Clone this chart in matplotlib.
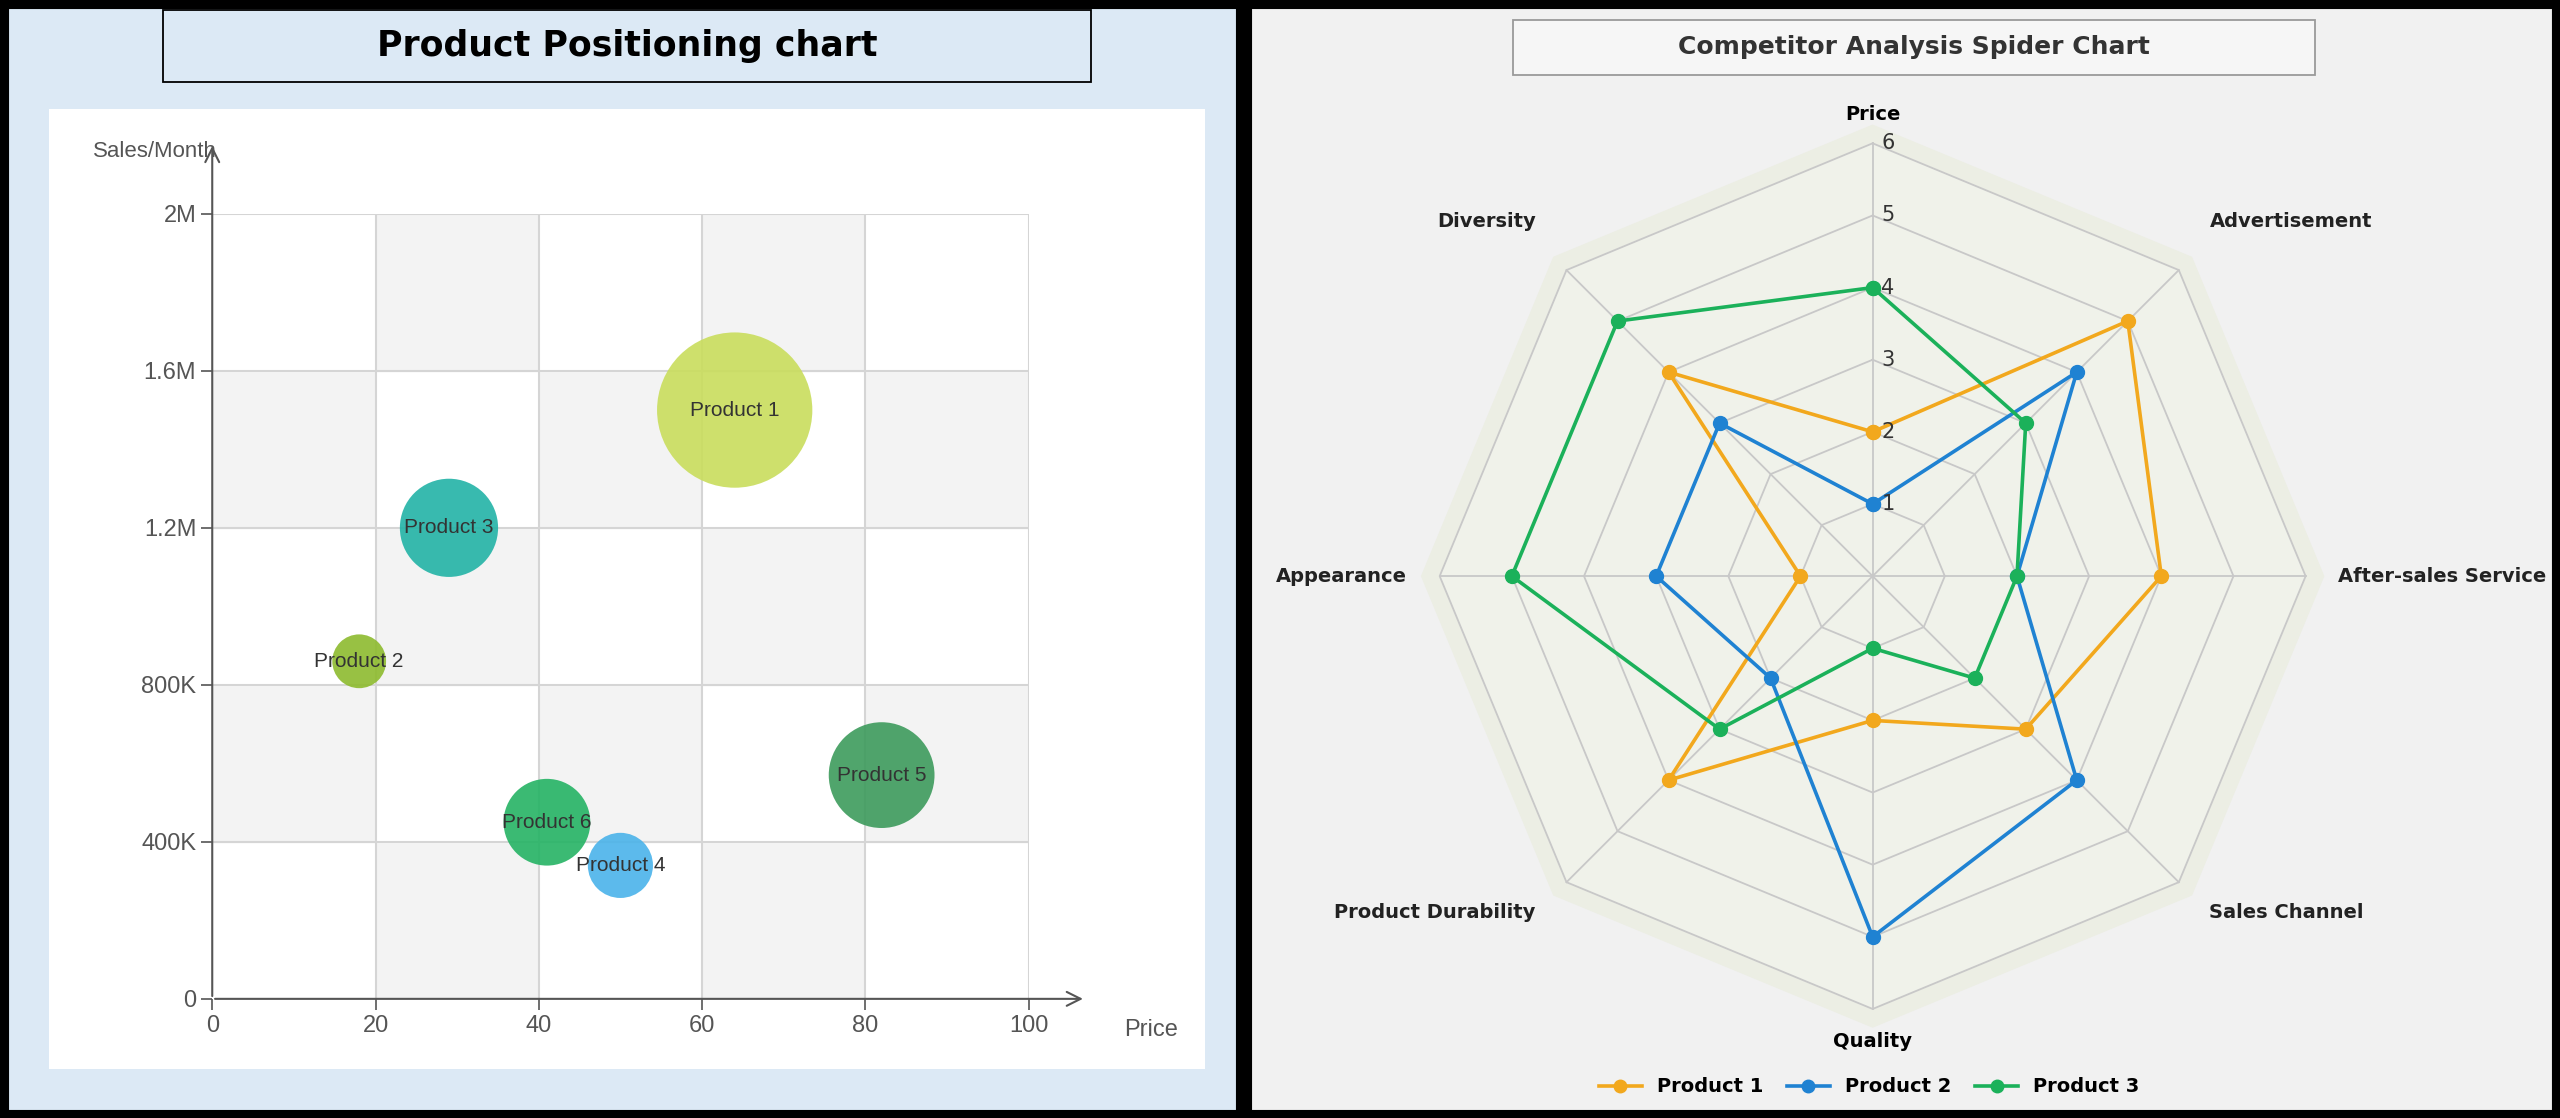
import numpy as np
import matplotlib.pyplot as plt
import matplotlib.patches as mpatches

# ---- bubble chart data ----
products = ["Product 1", "Product 2", "Product 3", "Product 4", "Product 5", "Product 6"]
price = [64, 18, 29, 50, 82, 41]
sales = [1.5e6, 0.86e6, 1.2e6, 0.34e6, 0.57e6, 0.45e6]
bubble_size = [12500, 1500, 5000, 2200, 5800, 3900]
bubble_colors = ["#c9dd5c", "#8dbb2e", "#22b3a6", "#4ab3ea", "#3d9b5c", "#25b364"]
y_ticks = [0, 400e3, 800e3, 1.2e6, 1.6e6, 2.0e6]
y_tick_labels = ["0", "400K", "800K", "1.2M", "1.6M", "2M"]
x_ticks = [0, 20, 40, 60, 80, 100]

# ---- spider chart data ----
dimensions = ["Price", "Advertisement", "After-sales Service", "Sales Channel",
              "Quality", "Product Durability", "Appearance", "Diversity"]
product1 = [2, 5, 4, 3, 2, 4, 1, 4]
product2 = [1, 4, 2, 4, 5, 2, 3, 3]
product3 = [4, 3, 2, 2, 1, 3, 5, 5]
series_names = ["Product 1", "Product 2", "Product 3"]
series_colors = ["#f2a81d", "#1f82d2", "#1bb15a"]

W, H = 1568, 685  # reference layout units
fig = plt.figure(figsize=(25.6, 11.18), dpi=100, facecolor="black")


def fr(x0, y0, x1, y1):
    return [x0 / W, 1 - y1 / H, (x1 - x0) / W, (y1 - y0) / H]


def box(x0, y0, x1, y1, fc, ec):
    fig.patches.append(mpatches.Rectangle((x0 / W, 1 - y1 / H), (x1 - x0) / W, (y1 - y0) / H,
                                          transform=fig.transFigure, fc=fc, ec=ec, lw=1.3,
                                          zorder=2))


# panel backgrounds
bg_left = fig.add_axes(fr(5, 5, 757, 680))
bg_left.set_facecolor("#dce9f5")
bg_left.set_xticks([]); bg_left.set_yticks([])
bg_right = fig.add_axes(fr(766, 5, 1563, 680))
bg_right.set_facecolor("#f1f1f1")
bg_right.set_xticks([]); bg_right.set_yticks([])
white = fig.add_axes(fr(30, 67, 738, 655))
white.set_facecolor("white")
white.set_xticks([]); white.set_yticks([])
for s in white.spines.values():
    s.set_visible(False)

# titles
box(100, 6, 668, 50, "#dce9f5", "black")
box(927, 12, 1418, 46, "#f6f6f6", "#9a9a9a")
fig.text(384 / W, 1 - 28 / H, "Product Positioning chart", ha="center", va="center",
         fontsize=25, fontweight="bold", zorder=3)
fig.text(1172 / W, 1 - 29 / H, "Competitor Analysis Spider Chart", ha="center", va="center",
         fontsize=18, fontweight="bold", color="#333333", zorder=3)

# ---- bubble chart ----
ax = fig.add_axes(fr(130, 131, 630, 612))
ax.set_xlim(0, 100)
ax.set_ylim(0, 2e6)
for i in range(5):
    for j in range(5):
        c = "#f3f3f3" if (i + j) % 2 else "white"
        ax.add_patch(mpatches.Rectangle((x_ticks[i], y_ticks[j]), 20, 400e3, color=c, zorder=0))
for x in x_ticks[1:]:
    ax.axvline(x, color="#d5d5d5", lw=1.5, zorder=1)
for y in y_ticks[1:]:
    ax.axhline(y, color="#d5d5d5", lw=1.5, zorder=1)
ax.scatter(price, sales, s=bubble_size, c=bubble_colors, alpha=0.9, zorder=3,
           edgecolors="none")
for name, px, py in zip(products, price, sales):
    ax.text(px, py, name, ha="center", va="center", fontsize=15, color="#333333",
            family="Liberation Sans", zorder=4)
for s in ax.spines.values():
    s.set_visible(False)
ax.annotate("", xy=(107, 0), xytext=(0, 0), xycoords="data",
            arrowprops=dict(arrowstyle="->", color="#555555", lw=1.5, mutation_scale=25),
            annotation_clip=False)
ax.annotate("", xy=(0, 2.18e6), xytext=(0, 0), xycoords="data",
            arrowprops=dict(arrowstyle="->", color="#555555", lw=1.5, mutation_scale=25),
            annotation_clip=False)
ax.set_xticks(x_ticks)
ax.set_yticks(y_ticks)
ax.set_yticklabels(y_tick_labels)
ax.tick_params(labelsize=17, colors="#555555", length=8, width=1.2)
for lab in ax.get_xticklabels() + ax.get_yticklabels():
    lab.set_family("Liberation Sans")
ax.text(-7, 2.16e6, "Sales/Month", ha="center", va="center", fontsize=16,
        color="#555555", family="Liberation Sans")
ax.text(115, -0.08e6, "Price", ha="center", va="center", fontsize=17,
        color="#555555", family="Liberation Sans")

# ---- spider chart ----
cx, cy, half = 1147, 353, 330
unit = 44.2
L = half / unit
sp = fig.add_axes([(cx - half) / W, 1 - (cy + half) / H, 2 * half / W, 2 * half / H])
sp.set_xlim(-L, L)
sp.set_ylim(-L, L)
sp.axis("off")
n = len(dimensions)
ang = np.pi / 2 - np.arange(n) * 2 * np.pi / n
ca, sa = np.cos(ang), np.sin(ang)


def octagon(r):
    return np.append(r * ca, r * ca[0]), np.append(r * sa, r * sa[0])


ox, oy = octagon(6.25)
sp.fill(ox, oy, color="#eceee4", zorder=0)
ox, oy = octagon(6)
sp.fill(ox, oy, color="#f0f2ea", zorder=0)
for r in [1, 2, 3, 4, 5, 6]:
    ox, oy = octagon(r)
    sp.plot(ox, oy, color="#c8c8c8", lw=1.3, zorder=1)
for k in range(n):
    sp.plot([0, 6 * ca[k]], [0, 6 * sa[k]], color="#c8c8c8", lw=1.3, zorder=1)
for r in range(1, 7):
    sp.text(0.12, r, str(r), ha="left", va="center", fontsize=15, color="#333333", zorder=5)

for vals, col in zip([product1, product2, product3], series_colors):
    v = np.array(vals + vals[:1], dtype=float)
    a = np.append(ang, ang[0])
    sp.plot(v * np.cos(a), v * np.sin(a), color=col, lw=2.6, marker="o", ms=10, zorder=3)

for k, name in enumerate(dimensions):
    x, y = ca[k], sa[k]
    if k == 0:
        sp.text(0, 6.4, name, ha="center", va="center", fontsize=14, fontweight="bold")
    elif k == 4:
        sp.text(0, -6.45, name, ha="center", va="center", fontsize=14, fontweight="bold")
    else:
        ha = "left" if x > 0 else "right"
        yy = 6.6 * y + (0.25 if abs(x) > 0.1 and abs(y) > 0.1 and y > 0 else 0)
        sp.text(6.45 * x if abs(y) < 0.1 else 6.6 * x, yy, name, ha=ha, va="center",
                fontsize=14, fontweight="bold", color="#222222")

handles = [plt.Line2D([], [], color=c, lw=2.6, marker="o", ms=9) for c in series_colors]
fig.legend(handles, series_names, loc="center", bbox_to_anchor=(1145 / W, 1 - 666 / H),
           ncol=3, frameon=False, handlelength=2.2, columnspacing=1.2,
           prop={"weight": "bold", "size": 14})

fig.savefig("out.png", dpi=100, facecolor="black")
